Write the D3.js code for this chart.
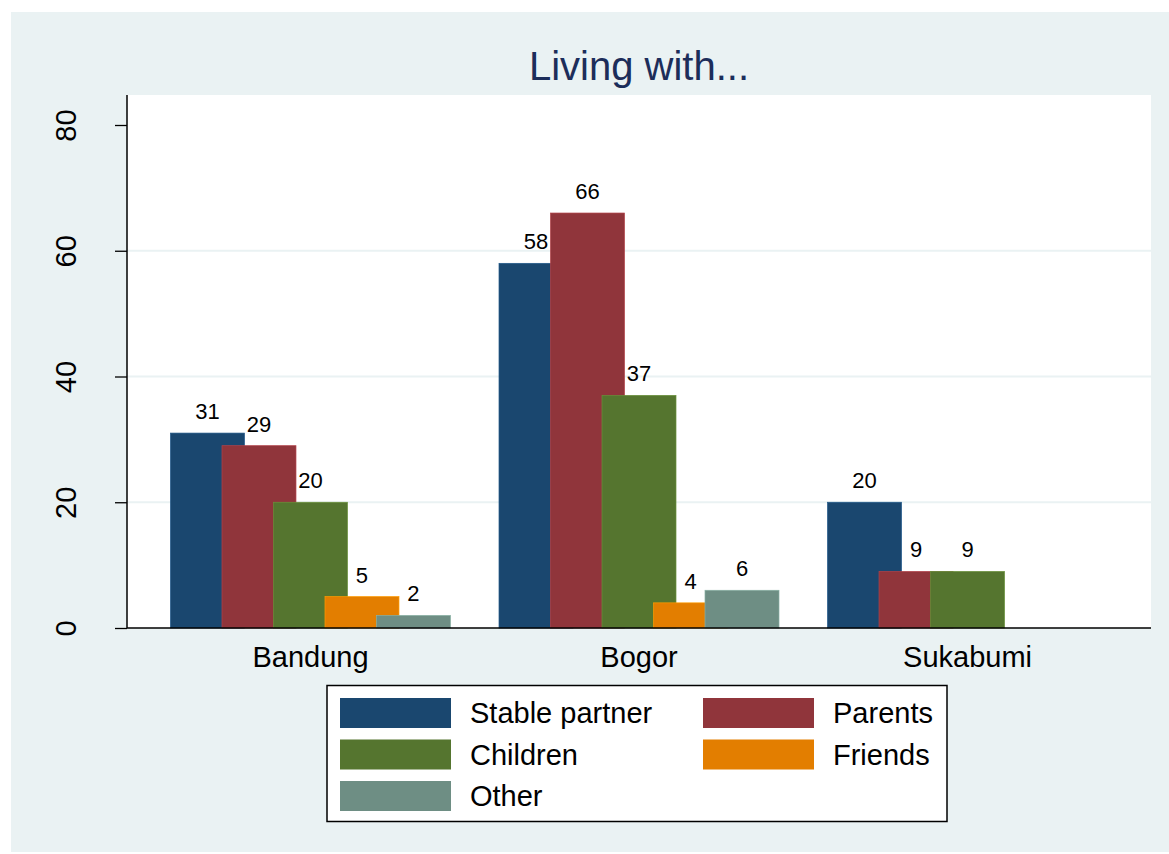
<!DOCTYPE html>
<html><head><meta charset="utf-8">
<script src="https://cdn.jsdelivr.net/npm/d3@7"></script>
<style>html,body{margin:0;padding:0;background:#fff;}svg{display:block;font-family:"Liberation Sans",Arial,sans-serif;}</style>
</head><body>
<svg id="c" width="1169" height="854"></svg>
<script>
const categories = ["Bandung", "Bogor", "Sukabumi"];
const seriesNames = ["Stable partner", "Parents", "Children", "Friends", "Other"];
const stablePartner = [31, 58, 20];
const parents = [29, 66, 9];
const children = [20, 37, 9];
const friends = [5, 4, null];
const other = [2, 6, null];
const yTicks = [0, 20, 40, 60, 80];
const colors = ["#1A476F", "#90353B", "#55752F", "#E37E00", "#6E8E84"];
const titleText = "Living with...";

const seriesValues = [stablePartner, parents, children, friends, other];

const svg = d3.select("#c");
const W = 1169, H = 854;
const L = 127, R = 1151, T = 95, B = 628;

svg.append("rect").attr("x", 11).attr("y", 12).attr("width", W - 11).attr("height", 840).attr("fill", "#EAF2F3");
svg.append("rect").attr("x", L).attr("y", T).attr("width", R - L).attr("height", B - T).attr("fill", "#fff");

const y = d3.scaleLinear().domain([0, 80]).range([B, 125]);
const x = d3.scaleBand().domain(categories).range([L, R]).paddingInner(0).paddingOuter(0.0585);
const sub = d3.scalePoint().domain(seriesNames).range([-103, 103]);
const barW = 74;

// gridlines
svg.append("g").selectAll("line").data(yTicks.filter(t => t > 0 && t < 80)).join("line")
  .attr("x1", L).attr("x2", R).attr("y1", d => y(d)).attr("y2", d => y(d))
  .attr("stroke", "#EAF2F3").attr("stroke-width", 2);

// bars
const bars = svg.append("g");
seriesNames.forEach((s, si) => {
  categories.forEach((c, ci) => {
    const v = seriesValues[si][ci];
    if (v == null) return;
    const cx = x(c) + x.bandwidth() / 2 + sub(s);
    bars.append("rect")
      .attr("x", cx - barW / 2).attr("width", barW)
      .attr("y", y(v)).attr("height", y(0) - y(v))
      .attr("fill", colors[si])
      .attr("stroke", d3.color(colors[si]).brighter(0.6)).attr("stroke-width", 0.7);
  });
});
// labels
const labs = svg.append("g").attr("font-size", 22).attr("fill", "#000").attr("text-anchor", "middle");
seriesNames.forEach((s, si) => {
  categories.forEach((c, ci) => {
    const v = seriesValues[si][ci];
    if (v == null) return;
    const cx = x(c) + x.bandwidth() / 2 + sub(s);
    labs.append("text").attr("x", cx).attr("y", y(v) - 14).text(v);
  });
});

// y axis
const yAxis = d3.axisLeft(y).tickValues(yTicks).tickSize(12).tickPadding(0).tickFormat(d3.format("d"));
const ga = svg.append("g").attr("transform", `translate(${L},0)`).call(yAxis);
ga.select(".domain").remove();
ga.selectAll(".tick line").attr("stroke", "#000").attr("stroke-width", 1.3);
ga.selectAll(".tick text").remove();
ga.selectAll(".tick").append("text")
  .attr("transform", "translate(-51,0) rotate(-90)")
  .attr("text-anchor", "middle").attr("fill", "#000")
  .attr("font-size", 29).attr("font-family", '"Liberation Sans",Arial,sans-serif')
  .text(d => d);
svg.append("line").attr("x1", L).attr("x2", L).attr("y1", T).attr("y2", B).attr("stroke", "#000").attr("stroke-width", 1.5);

// x axis
const xAxis = d3.axisBottom(x).tickSize(0).tickPadding(0);
const gx = svg.append("g").attr("transform", `translate(0,${B})`).call(xAxis);
gx.select(".domain").remove();
gx.selectAll(".tick text").attr("font-size", 29).attr("fill", "#000").attr("dy", null).attr("y", 39)
  .attr("font-family", '"Liberation Sans",Arial,sans-serif');
svg.append("line").attr("x1", L).attr("x2", R).attr("y1", B).attr("y2", B).attr("stroke", "#000").attr("stroke-width", 1.5);

// title
svg.append("text").attr("x", (L + R) / 2).attr("y", 80).attr("text-anchor", "middle")
  .attr("font-size", 40).attr("fill", "#1C2D5A").text(titleText);

// legend
const lg = svg.append("g");
lg.append("rect").attr("x", 327).attr("y", 685.5).attr("width", 620).attr("height", 136)
  .attr("fill", "#fff").attr("stroke", "#000").attr("stroke-width", 1.5);
const colX = [340, 703], rowY = [698, 739.5, 781];
seriesNames.forEach((s, i) => {
  const cx = colX[i % 2], ry = rowY[Math.floor(i / 2)];
  lg.append("rect").attr("x", cx).attr("y", ry).attr("width", 111).attr("height", 30).attr("fill", colors[i]);
  lg.append("text").attr("x", cx + 130).attr("y", ry + 25).attr("font-size", 29).attr("fill", "#000").text(s);
});
</script>
</body></html>
